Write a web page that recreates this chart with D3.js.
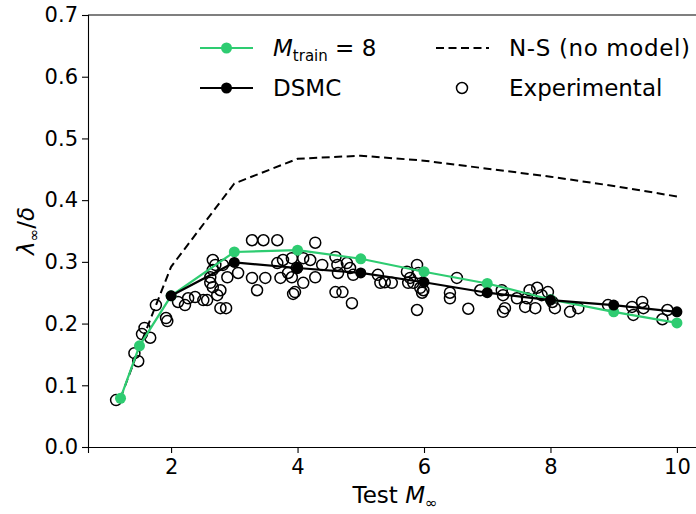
<!DOCTYPE html>
<html><head><meta charset="utf-8">
<script src="https://cdn.jsdelivr.net/npm/d3@7"></script>
<style>
body{margin:0;background:#fff;}
text{fill:#000;font-family:"DejaVu Sans",sans-serif;}
</style></head>
<body><svg id="c" width="696" height="514"></svg>
<script>
// ---- data ----
const trainX = [1.2, 1.5, 2, 3, 4, 5, 6, 7, 8, 9, 10];
const trainY = [0.079, 0.164, 0.245, 0.316, 0.319, 0.305, 0.284, 0.265, 0.239, 0.219, 0.201];
const dsmcX = [2, 3, 4, 5, 6, 7, 8, 9, 10];
const dsmcY = [0.245, 0.299, 0.290, 0.282, 0.267, 0.250, 0.238, 0.230, 0.219];
const nsX = [1.2, 1.5, 2, 3, 4, 5, 6, 7, 8, 9, 10];
const nsY = [0.079, 0.162, 0.292, 0.427, 0.467, 0.472, 0.464, 0.451, 0.438, 0.423, 0.406];
const expX = [1.13,1.42,1.48,1.58,1.54,1.67,1.76,1.92,1.94,
  2.11,2.22,2.27,2.38,2.51,2.57,2.78,2.87,
  2.62,2.66,2.78,2.73,2.62,2.66,2.70,2.66,2.82,2.89,3.06,3.28,3.49,3.36,3.28,3.46,3.68,3.73,3.68,
  3.77,3.91,4.09,4.20,3.99,3.85,3.91,4.09,3.96,3.93,4.28,4.28,4.39,4.60,4.63,4.64,4.78,4.83,4.88,4.60,4.71,4.86,
  5.27,5.31,5.38,5.49,5.73,5.75,5.78,5.89,5.91,5.94,5.99,5.97,5.83,5.89,6.52,6.41,6.41,
  6.70,6.89,7.23,7.25,7.28,7.25,7.47,7.63,7.67,7.79,7.86,7.96,7.76,7.60,8.03,8.07,8.31,8.44,
  8.91,9.29,9.31,9.45,9.47,9.77,9.85];
const expY = [0.076,0.152,0.139,0.193,0.183,0.177,0.230,0.209,0.204,
  0.235,0.230,0.241,0.243,0.238,0.238,0.225,0.225,
  0.266,0.259,0.254,0.246,0.275,0.287,0.295,0.303,0.295,0.275,0.282,0.274,0.274,0.254,0.335,0.335,0.335,0.274,0.298,
  0.303,0.306,0.306,0.303,0.290,0.282,0.275,0.266,0.251,0.248,0.331,0.275,0.295,0.308,0.295,0.282,0.298,0.290,0.279,0.251,0.251,0.233,
  0.279,0.266,0.267,0.266,0.284,0.266,0.274,0.295,0.282,0.258,0.254,0.250,0.266,0.222,0.274,0.250,0.241,
  0.224,0.254,0.254,0.246,0.225,0.219,0.241,0.241,0.254,0.258,0.246,0.251,0.225,0.227,0.235,0.225,0.219,0.225,
  0.230,0.227,0.214,0.235,0.225,0.207,0.222];
const xTicks = [2, 4, 6, 8, 10];
const yTicks = [0, 0.1, 0.2, 0.3, 0.4, 0.5, 0.6, 0.7];

const GREEN = "#2ecc71";
const svg = d3.select("#c");
const L = 88, R = 705, T = 15, B = 447;
const x = d3.scaleLinear().domain([0.686, 10.444]).range([L, R]);
const y = d3.scaleLinear().domain([0, 0.7]).range([B, T]);
const FS = 21, LS = 23, SUB = 15;

// axes
const xa = svg.append("g").attr("transform", `translate(0,${B})`)
  .call(d3.axisBottom(x).tickValues(xTicks).tickSizeOuter(0).tickSize(6).tickPadding(6).tickFormat(d3.format("d")));
const ya = svg.append("g").attr("transform", `translate(${L},0)`)
  .call(d3.axisLeft(y).tickValues(yTicks).tickSizeOuter(0).tickSize(6).tickPadding(4).tickFormat(d3.format(".1f")));
[xa, ya].forEach(a => {
  a.attr("font-family", null);
  a.selectAll("path,line").attr("stroke", "#000").attr("stroke-width", 1.1);
  a.selectAll("text").attr("font-size", FS);
});
// top and right spines
svg.append("line").attr("x1", L).attr("x2", R).attr("y1", T).attr("y2", T).attr("stroke", "#000").attr("stroke-width", 1.1);
svg.append("line").attr("x1", R).attr("x2", R).attr("y1", T).attr("y2", B).attr("stroke", "#000").attr("stroke-width", 1.1);

// experimental
const exp = expX.map((v, i) => [v, expY[i]]);
svg.append("g").selectAll("circle").data(exp).join("circle")
  .attr("cx", d => x(d[0])).attr("cy", d => y(d[1])).attr("r", 5.5)
  .attr("fill", "none").attr("stroke", "#000").attr("stroke-width", 1.5);

const line = d3.line().x(d => x(d[0])).y(d => y(d[1]));
// N-S
const ns = nsX.map((v, i) => [v, nsY[i]]);
svg.append("path").attr("d", line(ns)).attr("fill", "none").attr("stroke", "#000")
  .attr("stroke-width", 2).attr("stroke-dasharray", "8,4.5");
// green
const tr = trainX.map((v, i) => [v, trainY[i]]);
svg.append("path").attr("d", line(tr)).attr("fill", "none").attr("stroke", GREEN).attr("stroke-width", 2.2);
svg.append("g").selectAll("circle").data(tr).join("circle")
  .attr("cx", d => x(d[0])).attr("cy", d => y(d[1])).attr("r", 5.5).attr("fill", GREEN);
// dsmc
const ds = dsmcX.map((v, i) => [v, dsmcY[i]]);
svg.append("path").attr("d", line(ds)).attr("fill", "none").attr("stroke", "#000").attr("stroke-width", 2.2);
svg.append("g").selectAll("circle").data(ds).join("circle")
  .attr("cx", d => x(d[0])).attr("cy", d => y(d[1])).attr("r", 5.5).attr("fill", "#000");

// legend
const lg = svg.append("g");
function lineEntry(x0, yy, color, dash, dot) {
  lg.append("line").attr("x1", x0).attr("x2", x0 + 53).attr("y1", yy).attr("y2", yy)
    .attr("stroke", color).attr("stroke-width", 2.2).attr("stroke-dasharray", dash || null);
  if (dot) lg.append("circle").attr("cx", x0 + 26.5).attr("cy", yy).attr("r", 5.5).attr("fill", color);
}
lineEntry(200, 48, GREEN, null, true);
lineEntry(200, 88, "#000", null, true);
lineEntry(436, 48, "#000", "8,4.5", false);
lg.append("circle").attr("cx", 462).attr("cy", 88).attr("r", 5.5).attr("fill", "none").attr("stroke", "#000").attr("stroke-width", 1.5);

const t1 = lg.append("text").attr("x", 273).attr("y", 56).attr("font-size", LS);
t1.append("tspan").attr("font-style", "italic").text("M");
t1.append("tspan").attr("font-size", SUB).attr("dy", 5).text("train");
t1.append("tspan").attr("dy", -5).text(" = 8");
lg.append("text").attr("x", 273).attr("y", 96).attr("font-size", LS).text("DSMC");
lg.append("text").attr("x", 509).attr("y", 56).attr("font-size", LS).attr("textLength", 181).text("N-S (no model)");
lg.append("text").attr("x", 509).attr("y", 96).attr("font-size", LS).text("Experimental");

// axis labels
const xl = svg.append("text").attr("x", 395).attr("y", 503).attr("text-anchor", "middle").attr("font-size", LS);
xl.append("tspan").text("Test ");
xl.append("tspan").attr("font-style", "italic").text("M");
xl.append("tspan").attr("font-size", SUB).attr("dy", 5).text("∞");

const yl = svg.append("text").attr("transform", "translate(34,231) rotate(-90)").attr("text-anchor", "middle").attr("font-size", LS);
yl.append("tspan").attr("font-style", "italic").text("λ");
yl.append("tspan").attr("font-size", SUB).attr("dy", 5).text("∞");
yl.append("tspan").attr("dy", -5).text("/");
yl.append("tspan").attr("font-style", "italic").text("δ");
</script></body></html>
